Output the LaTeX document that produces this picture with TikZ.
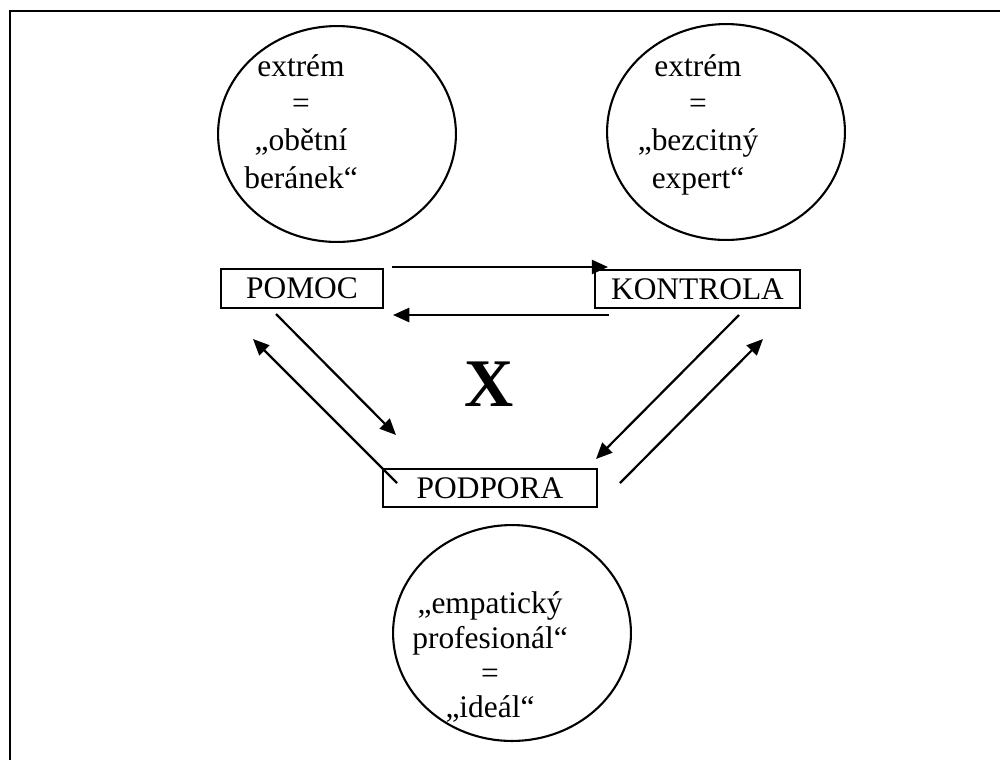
\documentclass[tikz,border=0pt]{standalone}
\usepackage{fontspec}
\setmainfont{Liberation Serif}
\usetikzlibrary{arrows.meta,shapes.geometric}
\begin{document}
\begin{tikzpicture}[x=0.3817pt,y=-0.3817pt,
  font=\fontsize{12pt}{14pt}\selectfont,
  box/.style={draw, line width=0.8pt, inner sep=0pt},
  oval/.style={draw, ellipse, line width=0.8pt, minimum width=90.8pt, minimum height=82.4pt, inner sep=0pt},
  lbl/.style={anchor=base, inner sep=0pt},
  arr/.style={line width=0.85pt, -{Triangle[length=6.2pt,width=5.4pt]}},
  frame/.style={line width=0.95pt}]
\useasboundingbox (0,0) rectangle (1000,760);
% frame
\draw[frame] (1000,11) -- (10,11) -- (10,760);
% ellipses
\node[oval] (e1) at (337,134) {};
\node[oval] (e2) at (726,132) {};
\node[oval] (e3) at (512,633) {};
% ellipse texts
\node[lbl] (t1a) at (301,76) {extrém};
\node[lbl] (t1b) at (301,113) {=};
\node[lbl] (t1c) at (301,150) {„obětní};
\node[lbl] (t1d) at (301,188) {beránek“};
\node[lbl] (t2a) at (698,76) {extrém};
\node[lbl] (t2b) at (698,113) {=};
\node[lbl] (t2c) at (698,150) {„bezcitný};
\node[lbl] (t2d) at (698,188) {expert“};
\node[lbl] (t3a) at (490,613) {„empatický};
\node[lbl] (t3b) at (490,648) {profesionál“};
\node[lbl] (t3c) at (490,683) {=};
\node[lbl] (t3d) at (490,717) {„ideál“};
% boxes
\node[box, minimum width=61.8pt, minimum height=14.9pt] (pomoc) at (302,288.5) {POMOC};
\node[box, minimum width=78.2pt, minimum height=14.5pt] (kontrola) at (697.5,289) {KONTROLA};
\node[box, minimum width=81.7pt, minimum height=14.5pt] (podpora) at (490,488) {PODPORA};
% X
\node[font=\fontsize{26pt}{30pt}\selectfont\bfseries, inner sep=0pt] (x) at (489,384) {X};
% arrow endpoints
\coordinate (a1s) at (392,267); \coordinate (a1e) at (608,267);
\coordinate (a2s) at (609,315); \coordinate (a2e) at (393,315);
\coordinate (a3s) at (276,314); \coordinate (a3e) at (396,435);
\coordinate (a4s) at (397,483); \coordinate (a4e) at (253,339);
\coordinate (a5s) at (739,315); \coordinate (a5e) at (596,459);
\coordinate (a6s) at (620,483); \coordinate (a6e) at (763,339);
\draw[arr] (a1s) -- (a1e);
\draw[arr] (a2s) -- (a2e);
\draw[arr] (a3s) -- (a3e);
\draw[arr] (a4s) -- (a4e);
\draw[arr] (a5s) -- (a5e);
\draw[arr] (a6s) -- (a6e);
\end{tikzpicture}
\end{document}
